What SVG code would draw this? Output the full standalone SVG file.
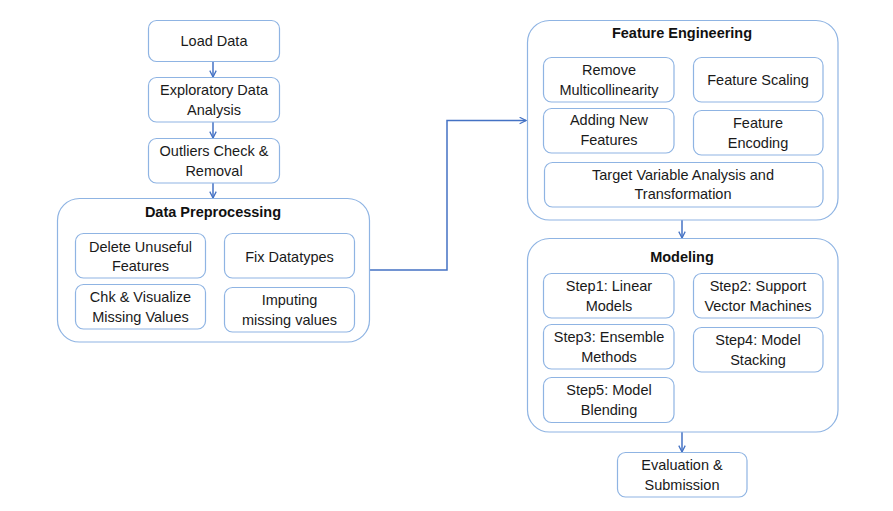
<svg xmlns="http://www.w3.org/2000/svg" width="893" height="511" viewBox="0 0 893 511">
<style>
.box{fill:#fff;stroke:#8fb4e3;stroke-width:1.2}
.t{font-family:"Liberation Sans",Arial,sans-serif;font-size:14.5px;fill:#1a1a1a;text-anchor:middle}
.h{font-family:"Liberation Sans",Arial,sans-serif;font-size:14.5px;font-weight:bold;fill:#111;text-anchor:middle}
.c{fill:none;stroke:#4472c4;stroke-width:1.5}
</style>
<defs>
<marker id="ar" viewBox="0 0 10 10" refX="9" refY="5" markerWidth="8" markerHeight="8" markerUnits="userSpaceOnUse" orient="auto">
<path d="M1,1 L9,5 L1,9" fill="none" stroke="#4472c4" stroke-width="1.6"/>
</marker>
</defs>
<rect width="893" height="511" fill="#fff"/>
<g id="connectors">
<line class="c" x1="213" y1="61" x2="213" y2="77" marker-end="url(#ar)"/>
<line class="c" x1="213" y1="122" x2="213" y2="138" marker-end="url(#ar)"/>
<line class="c" x1="213" y1="183" x2="213" y2="198" marker-end="url(#ar)"/>
<polyline class="c" points="369,270 447,270 447,120.5 526,120.5" marker-end="url(#ar)"/>
<line class="c" x1="682" y1="220" x2="682" y2="238" marker-end="url(#ar)"/>
<line class="c" x1="682" y1="432" x2="682" y2="452" marker-end="url(#ar)"/>
</g>
<g id="load-data">
<rect class="box" x="148.5" y="20.5" width="131" height="41" rx="8"/>
<text class="t" x="214" y="46">Load Data</text>
</g>
<g id="eda">
<rect class="box" x="148.5" y="77.5" width="131" height="44.5" rx="8"/>
<text class="t" x="214" y="95">Exploratory Data</text>
<text class="t" x="214" y="114.5">Analysis</text>
</g>
<g id="outliers">
<rect class="box" x="148.5" y="138.5" width="131" height="44.5" rx="8"/>
<text class="t" x="214" y="156">Outliers Check &amp;</text>
<text class="t" x="214" y="175.5">Removal</text>
</g>
<g id="data-preprocessing">
<rect class="box" x="57.5" y="198.5" width="312" height="143.5" rx="22"/>
<text class="h" x="213" y="217">Data Preprocessing</text>
<g id="delete-unuseful">
<rect class="box" x="75.5" y="233.5" width="130" height="44.5" rx="8"/>
<text class="t" x="140.5" y="251.5">Delete Unuseful</text>
<text class="t" x="140.5" y="271">Features</text>
</g>
<g id="fix-datatypes">
<rect class="box" x="224.5" y="233.5" width="130" height="44.5" rx="8"/>
<text class="t" x="289.5" y="261.5">Fix Datatypes</text>
</g>
<g id="chk-visualize">
<rect class="box" x="75.5" y="284.5" width="130" height="44.5" rx="8"/>
<text class="t" x="140.5" y="302">Chk &amp; Visualize</text>
<text class="t" x="140.5" y="321.5">Missing Values</text>
</g>
<g id="imputing">
<rect class="box" x="224.5" y="287.5" width="130" height="44.5" rx="8"/>
<text class="t" x="289.5" y="305">Imputing</text>
<text class="t" x="289.5" y="324.5">missing values</text>
</g>
</g>
<g id="feature-engineering">
<rect class="box" x="527.5" y="20.5" width="310.5" height="199.5" rx="22"/>
<text class="h" x="682" y="38">Feature Engineering</text>
<g id="remove-multicollinearity">
<rect class="box" x="543.5" y="57.5" width="130.5" height="44.5" rx="8"/>
<text class="t" x="609" y="75">Remove</text>
<text class="t" x="609" y="94.5">Multicollinearity</text>
</g>
<g id="feature-scaling">
<rect class="box" x="693.5" y="57.5" width="129.5" height="44.5" rx="8"/>
<text class="t" x="758" y="84.5">Feature Scaling</text>
</g>
<g id="adding-new-features">
<rect class="box" x="543.5" y="108.5" width="130.5" height="44.5" rx="8"/>
<text class="t" x="609" y="125">Adding New</text>
<text class="t" x="609" y="144.5">Features</text>
</g>
<g id="feature-encoding">
<rect class="box" x="693.5" y="110.5" width="129.5" height="44.5" rx="8"/>
<text class="t" x="758" y="128">Feature</text>
<text class="t" x="758" y="147.5">Encoding</text>
</g>
<g id="target-variable">
<rect class="box" x="544.5" y="162.5" width="278.5" height="44.5" rx="8"/>
<text class="t" x="683" y="179.5">Target Variable Analysis and</text>
<text class="t" x="683" y="199">Transformation</text>
</g>
</g>
<g id="modeling">
<rect class="box" x="527.5" y="238.5" width="310.5" height="193.5" rx="22"/>
<text class="h" x="682" y="262">Modeling</text>
<g id="step1">
<rect class="box" x="543.5" y="273.5" width="130.5" height="44.5" rx="8"/>
<text class="t" x="609" y="291">Step1: Linear</text>
<text class="t" x="609" y="310.5">Models</text>
</g>
<g id="step2">
<rect class="box" x="693.5" y="273.5" width="129.5" height="44.5" rx="8"/>
<text class="t" x="758" y="291">Step2: Support</text>
<text class="t" x="758" y="310.5">Vector Machines</text>
</g>
<g id="step3">
<rect class="box" x="543.5" y="324.5" width="130.5" height="44.5" rx="8"/>
<text class="t" x="609" y="342">Step3: Ensemble</text>
<text class="t" x="609" y="361.5">Methods</text>
</g>
<g id="step4">
<rect class="box" x="693.5" y="327.5" width="129.5" height="44.5" rx="8"/>
<text class="t" x="758" y="345">Step4: Model</text>
<text class="t" x="758" y="364.5">Stacking</text>
</g>
<g id="step5">
<rect class="box" x="543.5" y="377.5" width="130.5" height="45" rx="8"/>
<text class="t" x="609" y="395">Step5: Model</text>
<text class="t" x="609" y="414.5">Blending</text>
</g>
</g>
<g id="evaluation">
<rect class="box" x="617.5" y="452.5" width="129.5" height="44.5" rx="8"/>
<text class="t" x="682" y="470">Evaluation &amp;</text>
<text class="t" x="682" y="489.5">Submission</text>
</g>
</svg>
